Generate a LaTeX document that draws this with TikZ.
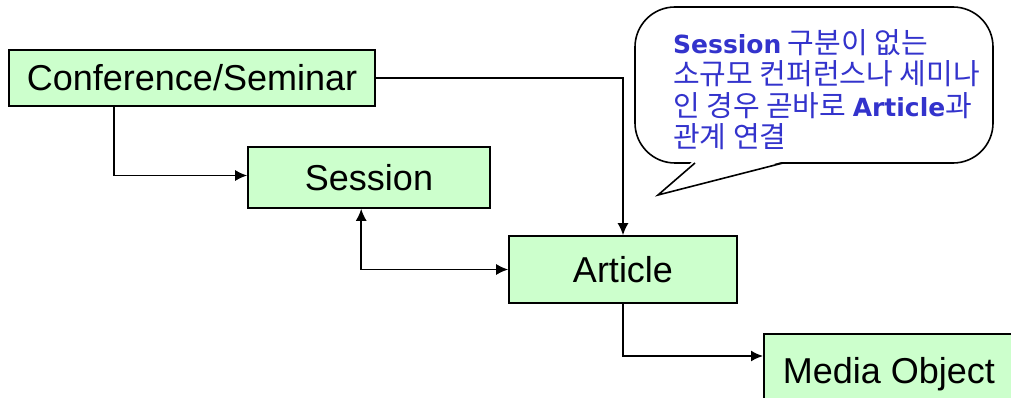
\documentclass[tikz,border=0pt]{standalone}
\usepackage{fontspec}
\setmainfont{Liberation Sans}
\newfontfamily\cjk{Noto Sans CJK KR}
\newfontfamily\latb{DejaVu Sans}
\newcommand\lw[1]{{\latb\bfseries\fontsize{25}{31.5}\selectfont #1}}
\usetikzlibrary{arrows.meta,positioning,calc}
\definecolor{boxgreen}{RGB}{204,255,204}
\definecolor{noteblue}{RGB}{51,51,204}
\tikzset{
  box/.style={draw,fill=boxgreen,line width=1.6pt,inner sep=0pt,
              font=\fontsize{36}{40}\selectfont},
  arr/.style={-{Latex[length=12pt,width=11pt]},line width=1.6pt},
  barr/.style={{Latex[length=12pt,width=11pt]}-{Latex[length=12pt,width=11pt]},line width=1.6pt},
  note/.style={draw,fill=white,line width=1.6pt},
}
\begin{document}
\begin{tikzpicture}[x=1pt,y=-1pt]
\useasboundingbox (0,0) rectangle (1011,398);
\clip (0,0) rectangle (1011,398);
% boxes
\node[box,minimum width=366pt,minimum height=56pt] (conf) at (192,78) {Conference/Seminar};
\node[box,minimum width=242pt,minimum height=61pt] (sess) at (369,177.5) {Session};
\node[box,minimum width=228pt,minimum height=67pt] (art) at (623,269.5) {Article};
\node[box,minimum width=250pt,minimum height=80pt,anchor=north west] (media) at (763,333) {Media Object};
% connectors
\draw[arr] ($(conf.south west)+(106,0)$) |- ($(sess.west)+(0,-2)$);
\draw[arr] (conf.east) -| (art.north);
\draw[barr] ($(sess.south west)+(114,0)$) |- (art.west);
\coordinate (mdin) at ($(media.north west)+(0,23)$);
\draw[arr] (art.south) |- (mdin);
% callout
\draw[note,rounded corners=40pt] (635,7) rectangle (993,163);
\fill[white] (693,161) -- (658,195) -- (785,161) -- cycle;
\draw[line width=1.6pt,line join=miter] (695,163) -- (658,195) -- (783,163);
\node[font=\cjk\fontsize{29}{31.5}\selectfont,text=noteblue,align=left,
      anchor=north west,inner sep=0pt] (notetxt) at (673,29)
  {\lw{Session} 구분이 없는\\
   소규모 컨퍼런스나 세미나\\
   인 경우 곧바로 \lw{Article}과\\
   관계 연결};
\end{tikzpicture}
\end{document}
